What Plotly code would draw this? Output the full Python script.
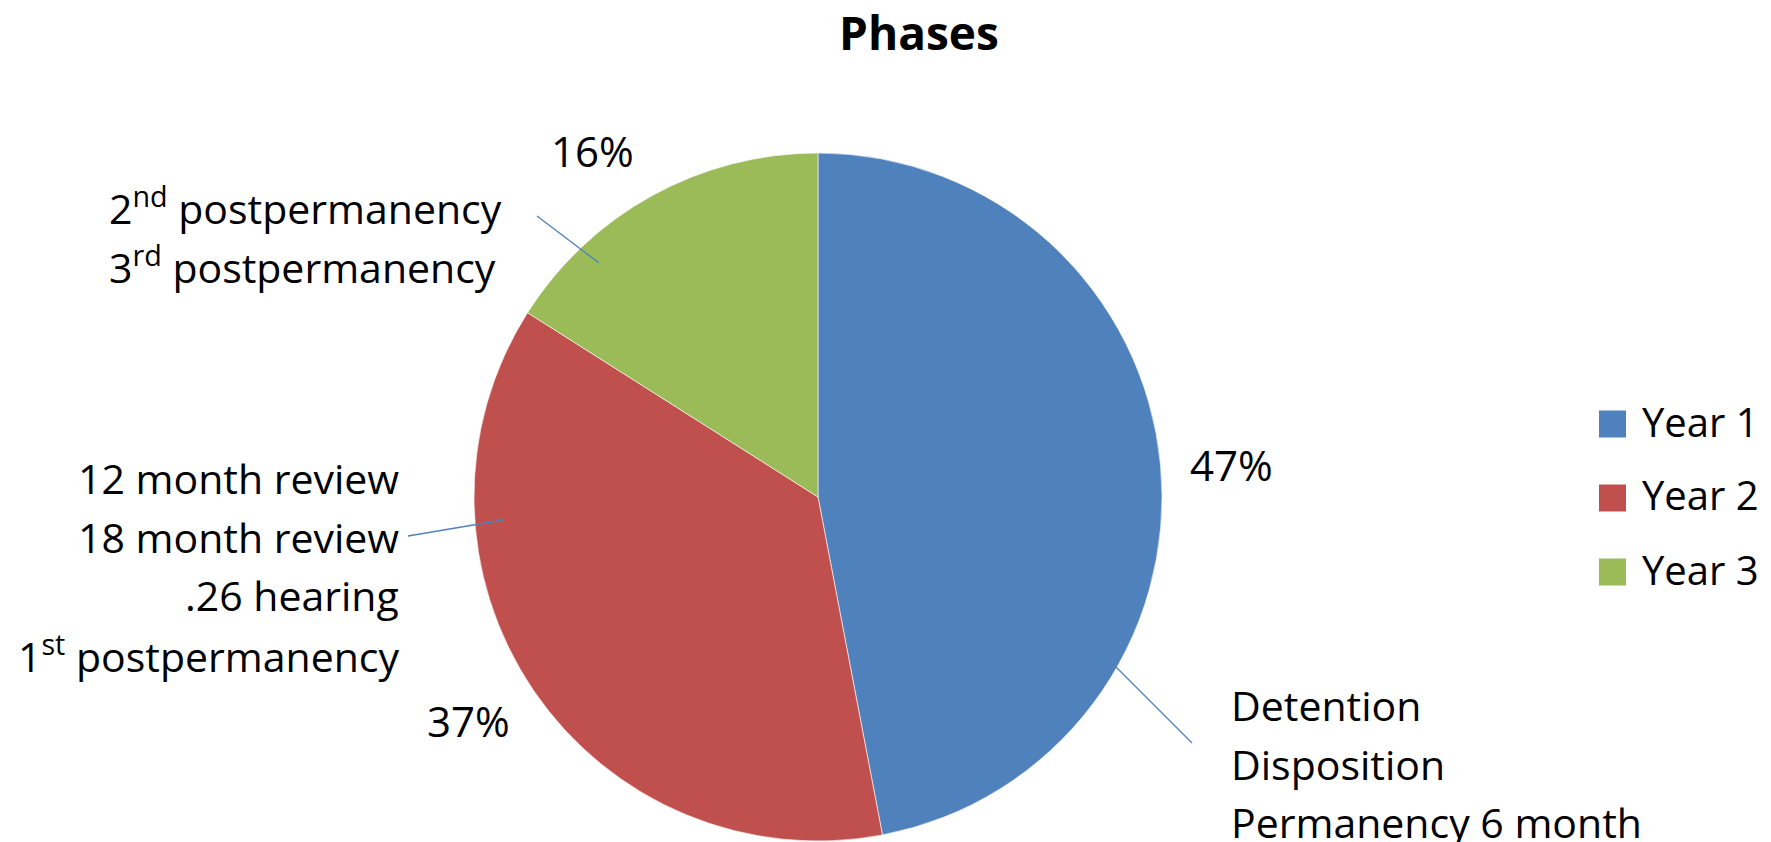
import plotly.graph_objects as go

# ---- data ----
categories = ["Year 1", "Year 2", "Year 3"]
values = [47, 37, 16]
colors = ["#4F81BD", "#C0504D", "#9BBB59"]
label_lines = {
    "Year 1": ["Detention", "Disposition", "Permanency 6 month"],
    "Year 2": ["12 month review", "18 month review", ".26 hearing", "1<sup>st</sup> postpermanency"],
    "Year 3": ["2<sup>nd</sup> postpermanency", "3<sup>rd</sup> postpermanency"],
}
title_text = "Phases"

W, H = 1771, 842
FONT = "Open Sans"
FS = 41
FS_LEG = 40


def px(x):
    return x / W


def py(y):
    return 1 - y / H


fig = go.Figure()
fig.add_trace(go.Pie(
    labels=categories,
    values=values,
    sort=False,
    direction="clockwise",
    rotation=0,
    marker=dict(colors=colors, line=dict(color="#ffffff", width=0.6)),
    textinfo="none",
    hoverinfo="label+percent",
    showlegend=False,
    domain=dict(x=[px(474), px(1162)], y=[py(841), py(153)]),
))

total = sum(values)
pct = [f"{round(v / total * 100)}%" for v in values]

annotations = []
shapes = []

# percentage labels
pct_pos = [(1231, 465), (468, 720), (592, 150)]
for (x, y), t in zip(pct_pos, pct):
    annotations.append(dict(x=px(x), y=py(y), xref="paper", yref="paper", text=t,
                            showarrow=False, xanchor="center", yanchor="middle",
                            font=dict(family=FONT, size=42, color="#000000")))

# category description labels (one annotation per line)
line_gap = 58.5
desc_cfg = {
    "Year 1": dict(x=1229, y0=705, anchor="left"),
    "Year 2": dict(x=401, y0=478, anchor="right"),
    "Year 3": dict(x=107, y0=206, anchor="left"),
}
for cat in categories:
    cfg = desc_cfg[cat]
    for i, line in enumerate(label_lines[cat]):
        annotations.append(dict(x=px(cfg["x"]), y=py(cfg["y0"] + i * line_gap),
                                xref="paper", yref="paper", text=line, showarrow=False,
                                xanchor=cfg["anchor"], yanchor="middle", align=cfg["anchor"],
                                font=dict(family=FONT, size=FS, color="#000000")))

# leader lines
leaders = [((1113, 664), (1192, 743)), ((503, 520), (408, 536)), ((599, 263), (537, 216))]
for (x0, y0), (x1, y1) in leaders:
    shapes.append(dict(type="line", xref="paper", yref="paper",
                       x0=px(x0), y0=py(y0), x1=px(x1), y1=py(y1),
                       line=dict(color="#4F81BD", width=1.3)))

# legend (drawn manually to match large square swatches)
leg_y = [424, 498, 572]
for cat, col, y in zip(categories, colors, leg_y):
    shapes.append(dict(type="rect", xref="paper", yref="paper",
                       x0=px(1599), x1=px(1626), y0=py(y - 13.5), y1=py(y + 13.5),
                       fillcolor=col, line=dict(width=0)))
    annotations.append(dict(x=px(1640), y=py(y - 3), xref="paper", yref="paper", text=cat,
                            showarrow=False, xanchor="left", yanchor="middle",
                            font=dict(family=FONT, size=FS_LEG, color="#000000")))

fig.update_layout(
    width=W, height=H,
    margin=dict(l=0, r=0, t=0, b=0),
    paper_bgcolor="#ffffff", plot_bgcolor="#ffffff",
    title=dict(text=f"<b>{title_text}</b>", x=px(919), y=py(34), xanchor="center", yanchor="middle",
               font=dict(family=FONT, size=46, color="#000000")),
    annotations=annotations,
    shapes=shapes,
    showlegend=False,
)

fig.write_html("out.html")
